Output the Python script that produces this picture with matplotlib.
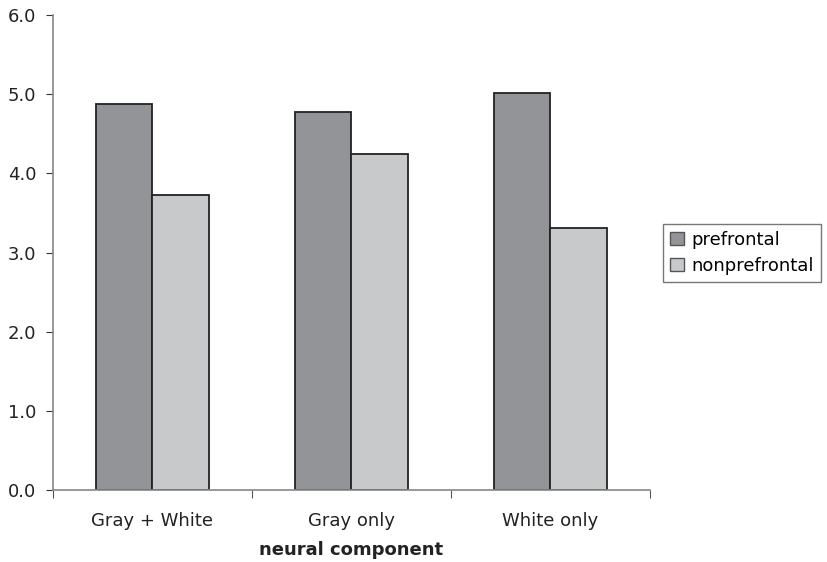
import matplotlib
matplotlib.use("Agg")
import matplotlib.pyplot as plt
import numpy as np

categories = ["Gray + White", "Gray only", "White only"]
prefrontal = [4.87, 4.77, 5.02]
nonprefrontal = [3.73, 4.25, 3.31]
series_names = ["prefrontal", "nonprefrontal"]
yticks = [0.0, 1.0, 2.0, 3.0, 4.0, 5.0, 6.0]

plt.rcParams['font.family'] = ['DejaVu Sans']

fig = plt.figure(figsize=(8.27, 5.62), dpi=100)
ax = fig.add_axes([53/827, 1-490/562, (650-53)/827, (490-15)/562])

x = np.arange(len(categories))
w = 0.286
ec = "#222222"
ax.bar(x - w/2, prefrontal, w, color="#939498", edgecolor=ec, linewidth=1.3, label=series_names[0])
ax.bar(x + w/2, nonprefrontal, w, color="#c8c9cb", edgecolor=ec, linewidth=1.3, label=series_names[1])

ax.set_xlim(-0.5, len(categories) - 0.5)
ax.set_ylim(0, 6)
ax.set_yticks(yticks)
ax.set_yticklabels([f"{v:.1f}" for v in yticks])

ax.set_xticks(np.arange(len(categories) + 1) - 0.5)
ax.set_xticklabels([])
ax.set_xticks(x, minor=True)
ax.set_xticklabels(categories, minor=True)
ax.tick_params(axis='x', which='minor', length=0, pad=16, labelsize=13, colors="#222222")
ax.tick_params(axis='x', which='major', length=6, color="#555555")
ax.tick_params(axis='y', length=5, color="#333333", labelsize=13, labelcolor="#222222", pad=7)

for s in ["top", "right"]:
    ax.spines[s].set_visible(False)
for s in ["left", "bottom"]:
    ax.spines[s].set_color("#888888")
    ax.spines[s].set_linewidth(1.2)

ax.set_xlabel("neural component", fontsize=13, fontweight="bold", color="#222222", labelpad=8)

leg = fig.legend(loc="upper left", bbox_to_anchor=(663/827, 1-224/562), frameon=True,
                 fancybox=False, edgecolor="#555555", fontsize=13, handlelength=0.78,
                 handleheight=0.78, handletextpad=0.4, borderpad=0.38, labelspacing=0.45,
                 borderaxespad=0)
leg.get_frame().set_linewidth(1.0)
for p in leg.get_patches():
    p.set_edgecolor("#555555")
    p.set_linewidth(1.0)

fig.savefig("out.png", dpi=100)
